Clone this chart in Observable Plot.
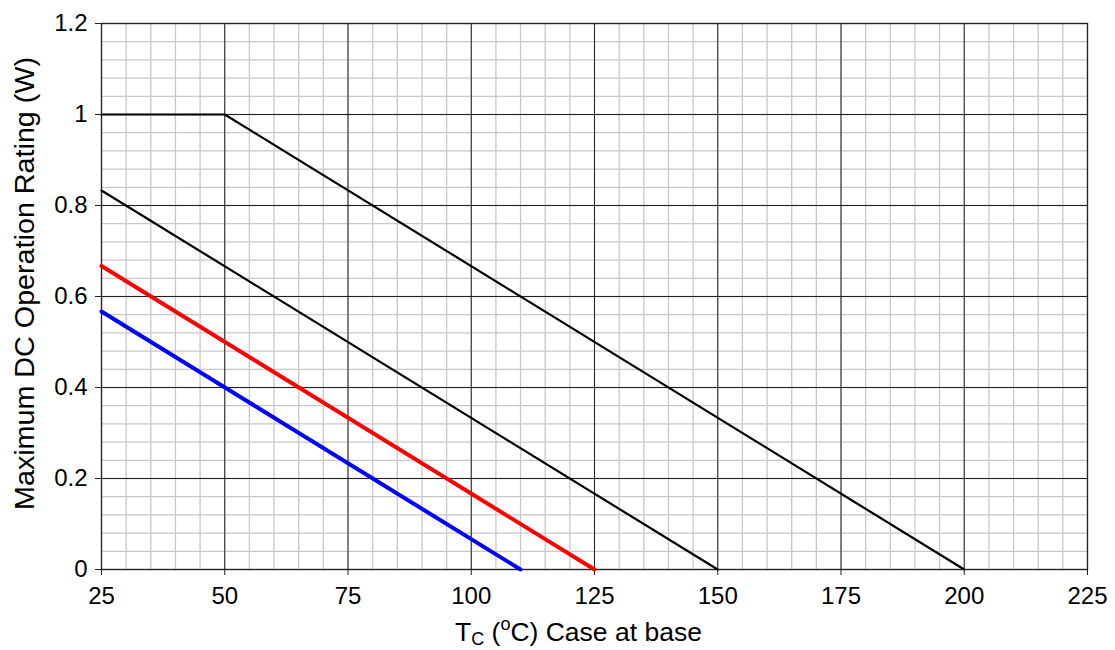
<!DOCTYPE html>
<html><head><meta charset="utf-8">
<script src="https://cdn.jsdelivr.net/npm/d3@7"></script>
<script src="https://cdn.jsdelivr.net/npm/@observablehq/plot@0.6"></script>
<style>
body{margin:0;background:#fff}
#chart svg{display:block;font-family:"Liberation Sans",Arial,sans-serif}
</style>
</head><body><div id="chart"></div>
<script>
// Tick values and labels
const xTicks = [25, 50, 75, 100, 125, 150, 175, 200, 225];
const yTicks = [0, 0.2, 0.4, 0.6, 0.8, 1, 1.2];
const yTickLabels = ["0", "0.2", "0.4", "0.6", "0.8", "1", "1.2"];
const xMinor = d3.range(25, 226, 5);
const yMinor = d3.range(0, 1.2001, 0.04);

// Series (temperature °C -> max DC power W)
const curveA_T = [25, 50, 200];
const curveA_P = [1, 1, 0];
const curveB_T = [25, 150];
const curveB_P = [0.833, 0];
const curveC_T = [25, 125];
const curveC_P = [0.667, 0];
const curveD_T = [25, 110];
const curveD_P = [0.567, 0];

const toRows = (name, ts, ps) => ts.map((t, i) => ({name, t, p: ps[i]}));
const rowsA = toRows("A", curveA_T, curveA_P);
const rowsB = toRows("B", curveB_T, curveB_P);
const rowsC = toRows("C", curveC_T, curveC_P);
const rowsD = toRows("D", curveD_T, curveD_P);

const W = 1115, H = 650;
const plot = Plot.plot({
  width: W, height: H,
  marginLeft: 101, marginRight: 28, marginTop: 23, marginBottom: 81,
  style: {fontFamily: "'Liberation Sans', Arial, sans-serif", fontSize: "24px", background: "#fff", color: "#000"},
  x: {domain: [25, 225], label: null},
  y: {domain: [0, 1.2], label: null},
  marks: [
    Plot.ruleX(xMinor, {stroke: "#c8c8c8", strokeWidth: 1.3}),
    Plot.ruleY(yMinor, {stroke: "#c8c8c8", strokeWidth: 1.3}),
    Plot.ruleX(xTicks, {stroke: "#222", strokeWidth: 1}),
    Plot.ruleY(yTicks, {stroke: "#222", strokeWidth: 1}),
    Plot.frame({stroke: "#222", strokeWidth: 1.3}),
    Plot.axisX({ticks: xTicks, tickSize: 6, tickPadding: 11, fontSize: 24, stroke: "#222", label: null}),
    Plot.axisY({ticks: yTicks, tickFormat: (d) => yTickLabels[yTicks.indexOf(d)], tickSize: 6, tickPadding: 8, fontSize: 24, stroke: "#222", label: null}),
    Plot.line(rowsD, {x: "t", y: "p", stroke: "#0000ff", strokeWidth: 4}),
    Plot.line(rowsC, {x: "t", y: "p", stroke: "#ff0000", strokeWidth: 4}),
    Plot.line(rowsB, {x: "t", y: "p", stroke: "#000", strokeWidth: 2.2}),
    Plot.line(rowsA, {x: "t", y: "p", stroke: "#000", strokeWidth: 2.2})
  ]
});
document.getElementById("chart").appendChild(plot);

const svg = d3.select(plot);
// X axis title with subscript / superscript
const xt = svg.append("text")
  .attr("x", 455).attr("y", 641)
  .attr("text-anchor", "start")
  .attr("font-size", 26.5).attr("fill", "#000");
xt.append("tspan").text("T");
xt.append("tspan").attr("font-size", 18).attr("dy", 4).text("C");
xt.append("tspan").attr("dy", -4).text(" (");
xt.append("tspan").attr("font-size", 18).attr("dy", -11).text("o");
xt.append("tspan").attr("dy", 11).text("C) Case at base");

// Y axis title
svg.append("text")
  .attr("transform", "translate(34,283.5) rotate(-90)")
  .attr("text-anchor", "middle")
  .attr("font-size", 27).attr("fill", "#000")
  .attr("textLength", 453).attr("lengthAdjust", "spacingAndGlyphs")
  .text("Maximum DC Operation Rating (W)");
</script>
</body></html>
